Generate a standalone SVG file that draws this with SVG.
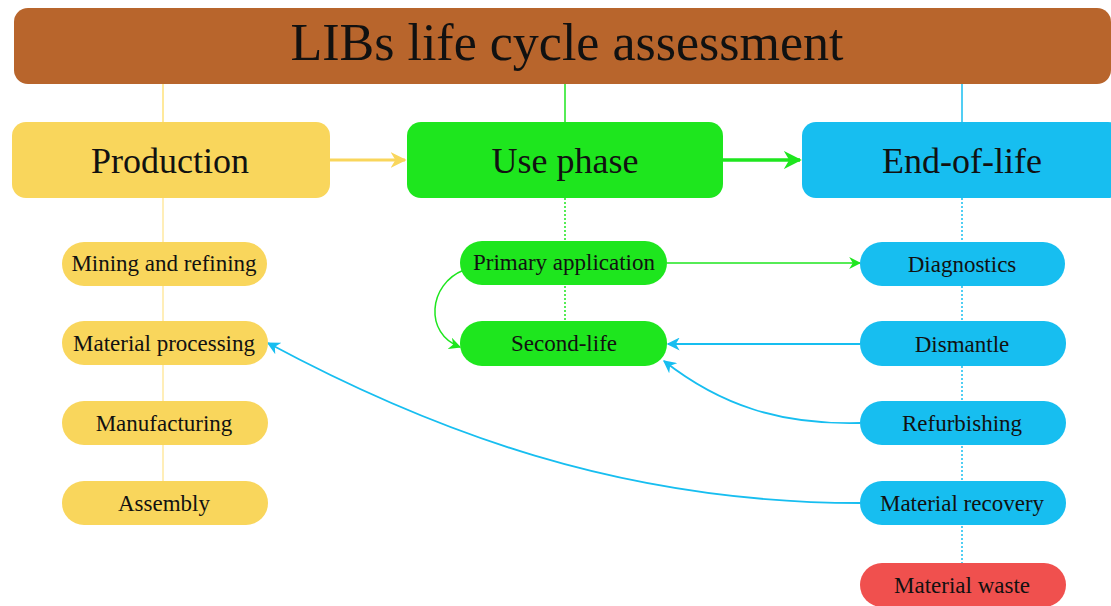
<svg xmlns="http://www.w3.org/2000/svg" width="1111" height="606" viewBox="0 0 1111 606">
<style>
text{font-family:"Liberation Serif","Times New Roman",serif;fill:#111;text-anchor:middle}
.t{font-size:52px}
.b{font-size:36px}
.s{font-size:23px}
.y{fill:#F9D65C}
.g{fill:#1EE61E}
.c{fill:#17BEF0}
.r{fill:#F0504E}
</style>
<defs>
<marker id="ay" viewBox="0 0 10 10" refX="9" refY="5" markerWidth="16" markerHeight="16" orient="auto" markerUnits="userSpaceOnUse"><path d="M0,0L10,5L0,10L3,5z" fill="#F9D65C"/></marker>
<marker id="ag" viewBox="0 0 10 10" refX="9" refY="5" markerWidth="12" markerHeight="12" orient="auto" markerUnits="userSpaceOnUse"><path d="M0,0L10,5L0,10L3,5z" fill="#1EE61E"/></marker>
<marker id="agb" viewBox="0 0 10 10" refX="9" refY="5" markerWidth="18" markerHeight="18" orient="auto" markerUnits="userSpaceOnUse"><path d="M0,0L10,5L0,10L3,5z" fill="#1EE61E"/></marker>
<marker id="ab" viewBox="0 0 10 10" refX="9" refY="5" markerWidth="13" markerHeight="13" orient="auto" markerUnits="userSpaceOnUse"><path d="M0,0L10,5L0,10L3,5z" fill="#17BEF0"/></marker>
</defs>
<rect width="1111" height="606" fill="#fff"/>
<g id="connectors" fill="none">
<line x1="163" y1="84" x2="163" y2="122" stroke="#FFE27A" stroke-width="1.5"/>
<line x1="565" y1="84" x2="565" y2="122" stroke="#1EE61E" stroke-width="1.5"/>
<line x1="962" y1="84" x2="962" y2="122" stroke="#17BEF0" stroke-width="1.5"/>
<line x1="163" y1="198" x2="163" y2="481" stroke="#FFE9A0" stroke-width="1.5"/>
<line x1="565" y1="198" x2="565" y2="321" stroke="#1EE61E" stroke-width="1.5" stroke-dasharray="2 2"/>
<line x1="962" y1="198" x2="962" y2="563" stroke="#17BEF0" stroke-width="1.5" stroke-dasharray="2 2"/>
<line x1="330" y1="160" x2="405" y2="160" stroke="#F9D65C" stroke-width="3" marker-end="url(#ay)"/>
<line x1="723" y1="160" x2="800" y2="160" stroke="#1EE61E" stroke-width="3.5" marker-end="url(#agb)"/>
<line x1="667" y1="263" x2="860" y2="263" stroke="#1EE61E" stroke-width="1.5" marker-end="url(#ag)"/>
<path d="M464,270 C428,284 424,334 460,347" stroke="#1EE61E" stroke-width="1.5" marker-end="url(#ag)"/>
<line x1="860" y1="344" x2="668" y2="344" stroke="#17BEF0" stroke-width="1.8" marker-end="url(#ab)"/>
<path d="M860,423 C780,425 720,405 664,361" stroke="#17BEF0" stroke-width="1.8" marker-end="url(#ab)"/>
<path d="M860,503 C620,503 430,430 268,343" stroke="#17BEF0" stroke-width="1.8" marker-end="url(#ab)"/>
</g>
<g id="title"><rect x="14" y="8" width="1097" height="76" rx="14" fill="#B8652C"/><text class="t" x="567" y="60">LIBs life cycle assessment</text></g>
<g id="production"><rect class="y" x="12" y="122" width="318" height="76" rx="14"/><text class="b" x="170" y="173">Production</text></g>
<g id="use"><rect class="g" x="407" y="122" width="316" height="76" rx="14"/><text class="b" x="565" y="173">Use phase</text></g>
<g id="eol"><rect class="c" x="802" y="122" width="320" height="76" rx="14"/><text class="b" x="962" y="173">End-of-life</text></g>
<g id="mining"><rect class="y" x="62" y="242" width="205" height="44" rx="22"/><text class="s" x="164" y="271">Mining and refining</text></g>
<g id="processing"><rect class="y" x="62" y="321" width="206" height="44" rx="22"/><text class="s" x="164" y="351">Material processing</text></g>
<g id="manufacturing"><rect class="y" x="62" y="401" width="206" height="44" rx="22"/><text class="s" x="164" y="431">Manufacturing</text></g>
<g id="assembly"><rect class="y" x="62" y="481" width="206" height="44" rx="22"/><text class="s" x="164" y="511">Assembly</text></g>
<g id="primary"><rect class="g" x="460" y="241" width="207" height="44" rx="22"/><text class="s" x="564" y="270">Primary application</text></g>
<g id="second"><rect class="g" x="460" y="321" width="207" height="45" rx="22"/><text class="s" x="564" y="351">Second-life</text></g>
<g id="diagnostics"><rect class="c" x="860" y="242" width="205" height="44" rx="22"/><text class="s" x="962" y="272">Diagnostics</text></g>
<g id="dismantle"><rect class="c" x="860" y="321" width="206" height="45" rx="22"/><text class="s" x="962" y="352">Dismantle</text></g>
<g id="refurbishing"><rect class="c" x="860" y="401" width="206" height="44" rx="22"/><text class="s" x="962" y="431">Refurbishing</text></g>
<g id="recovery"><rect class="c" x="860" y="481" width="206" height="44" rx="22"/><text class="s" x="962" y="511">Material recovery</text></g>
<g id="waste"><rect class="r" x="860" y="563" width="206" height="44" rx="22"/><text class="s" x="962" y="593">Material waste</text></g>
</svg>
